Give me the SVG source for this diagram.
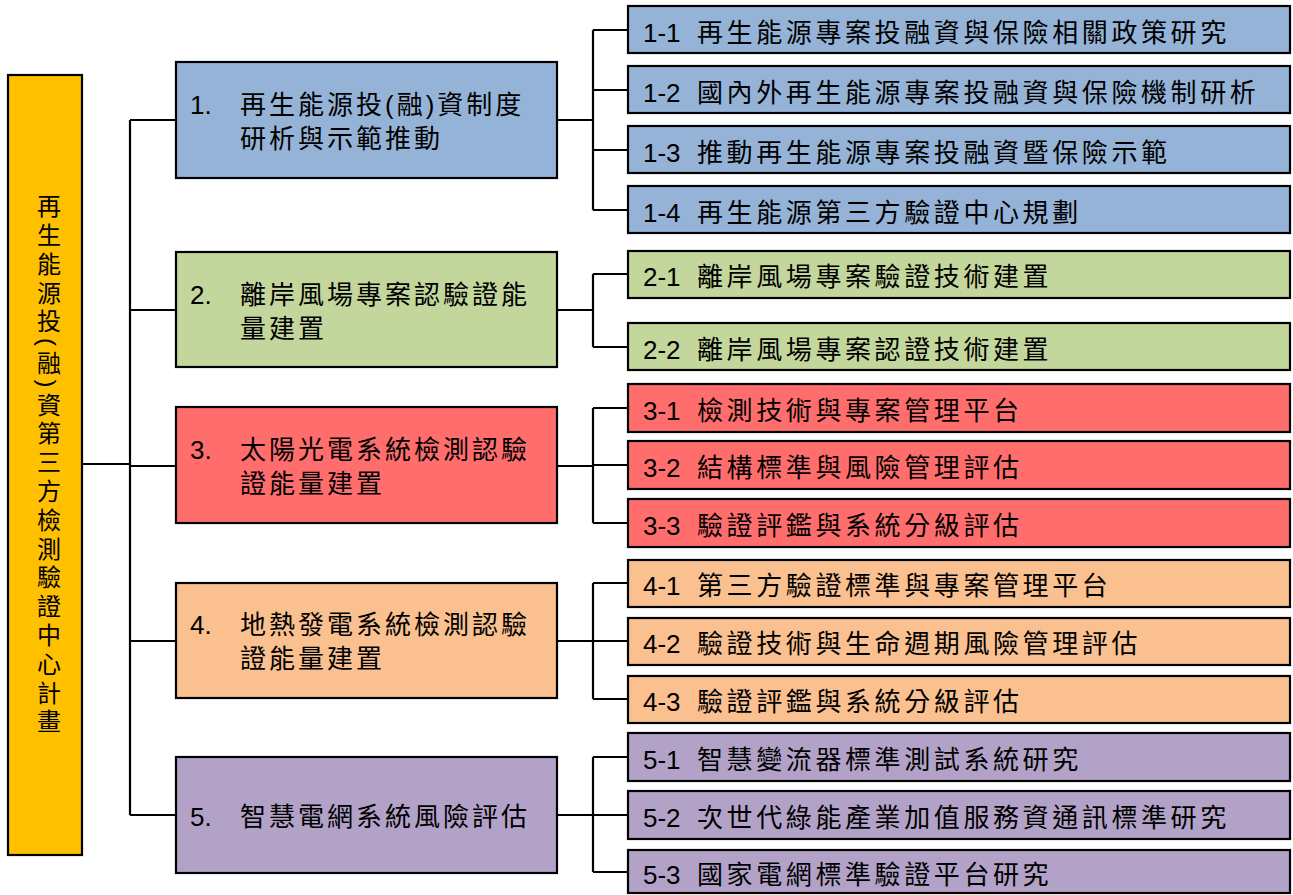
<svg xmlns="http://www.w3.org/2000/svg" width="1293" height="895" viewBox="0 0 1293 895">
<style>
.box{stroke:#000;stroke-width:2.2}
.root{fill:#FFC000}
.c1{fill:#95B3D7}
.c2{fill:#C3D69B}
.c3{fill:#FF6D6D}
.c4{fill:#FAC090}
.c5{fill:#B3A2C7}
text{font-family:"Liberation Sans","Noto Sans CJK TC",sans-serif;font-size:26px;fill:#000}
.l1{letter-spacing:3px}
.l2{letter-spacing:3.6px}
.vt{font-size:24px;letter-spacing:4.8px}
#connectors path{fill:none;stroke:#000;stroke-width:2.2}
</style>
<rect width="1293" height="895" fill="#fff"/>
<g id="connectors">
<path d="M82 464H130M130 120V815M130 120H176M130 310H176M130 466H176M130 641H176M130 815H176"/>
<path d="M557 120H593M593 30V210M593 30H628M593 90H628M593 150H628M593 210H628"/>
<path d="M557 310H593M593 274V347M593 274H628M593 347H628"/>
<path d="M557 466H593M593 408V523M593 408H628M593 465H628M593 523H628"/>
<path d="M557 641H593M593 583V699M593 583H628M593 641H628M593 699H628"/>
<path d="M557 815H593M593 757V872M593 757H628M593 815H628M593 872H628"/>
</g>
<g id="root">
<rect class="box root" x="8" y="75" width="74" height="780"/>
<text class="vt" x="47" y="194" writing-mode="vertical-rl">再生能源投(融)資第三方檢測驗證中心計畫</text>
</g>
<g id="n1">
<rect class="box c1" x="176" y="62" width="381" height="116"/>
<text y="114"><tspan x="190">1.</tspan><tspan class="l1" x="240">再生能源投(融)資制度</tspan><tspan class="l1" x="240" dy="34">研析與示範推動</tspan></text>
</g>
<g id="n2">
<rect class="box c2" x="176" y="252" width="381" height="115"/>
<text y="304"><tspan x="190">2.</tspan><tspan class="l1" x="240">離岸風場專案認驗證能</tspan><tspan class="l1" x="240" dy="34">量建置</tspan></text>
</g>
<g id="n3">
<rect class="box c3" x="176" y="407" width="381" height="116"/>
<text y="459"><tspan x="190">3.</tspan><tspan class="l1" x="240">太陽光電系統檢測認驗</tspan><tspan class="l1" x="240" dy="34">證能量建置</tspan></text>
</g>
<g id="n4">
<rect class="box c4" x="176" y="583" width="381" height="115"/>
<text y="634"><tspan x="190">4.</tspan><tspan class="l1" x="240">地熱發電系統檢測認驗</tspan><tspan class="l1" x="240" dy="34">證能量建置</tspan></text>
</g>
<g id="n5">
<rect class="box c5" x="176" y="757" width="381" height="116"/>
<text y="826"><tspan x="190">5.</tspan><tspan class="l1" x="240">智慧電網系統風險評估</tspan></text>
</g>
<g id="n1-1"><rect class="box c1" x="628" y="6" width="662" height="47"/><text y="42"><tspan x="643">1-1</tspan><tspan class="l2" x="697">再生能源專案投融資與保險相關政策研究</tspan></text></g>
<g id="n1-2"><rect class="box c1" x="628" y="66" width="662" height="47"/><text y="102"><tspan x="643">1-2</tspan><tspan class="l2" x="697">國內外再生能源專案投融資與保險機制研析</tspan></text></g>
<g id="n1-3"><rect class="box c1" x="628" y="126" width="662" height="47"/><text y="162"><tspan x="643">1-3</tspan><tspan class="l2" x="697">推動再生能源專案投融資暨保險示範</tspan></text></g>
<g id="n1-4"><rect class="box c1" x="628" y="186" width="662" height="47"/><text y="222"><tspan x="643">1-4</tspan><tspan class="l2" x="697">再生能源第三方驗證中心規劃</tspan></text></g>
<g id="n2-1"><rect class="box c2" x="628" y="251" width="662" height="47"/><text y="286"><tspan x="643">2-1</tspan><tspan class="l2" x="697">離岸風場專案驗證技術建置</tspan></text></g>
<g id="n2-2"><rect class="box c2" x="628" y="323" width="662" height="47"/><text y="359"><tspan x="643">2-2</tspan><tspan class="l2" x="697">離岸風場專案認證技術建置</tspan></text></g>
<g id="n3-1"><rect class="box c3" x="628" y="384" width="662" height="48"/><text y="420"><tspan x="643">3-1</tspan><tspan class="l2" x="697">檢測技術與專案管理平台</tspan></text></g>
<g id="n3-2"><rect class="box c3" x="628" y="441" width="662" height="48"/><text y="477"><tspan x="643">3-2</tspan><tspan class="l2" x="697">結構標準與風險管理評估</tspan></text></g>
<g id="n3-3"><rect class="box c3" x="628" y="499" width="662" height="48"/><text y="535"><tspan x="643">3-3</tspan><tspan class="l2" x="697">驗證評鑑與系統分級評估</tspan></text></g>
<g id="n4-1"><rect class="box c4" x="628" y="560" width="662" height="47"/><text y="595"><tspan x="643">4-1</tspan><tspan class="l2" x="697">第三方驗證標準與專案管理平台</tspan></text></g>
<g id="n4-2"><rect class="box c4" x="628" y="618" width="662" height="47"/><text y="653"><tspan x="643">4-2</tspan><tspan class="l2" x="697">驗證技術與生命週期風險管理評估</tspan></text></g>
<g id="n4-3"><rect class="box c4" x="628" y="676" width="662" height="47"/><text y="711"><tspan x="643">4-3</tspan><tspan class="l2" x="697">驗證評鑑與系統分級評估</tspan></text></g>
<g id="n5-1"><rect class="box c5" x="628" y="733" width="662" height="48"/><text y="769"><tspan x="643">5-1</tspan><tspan class="l2" x="697">智慧變流器標準測試系統研究</tspan></text></g>
<g id="n5-2"><rect class="box c5" x="628" y="791" width="662" height="48"/><text y="827"><tspan x="643">5-2</tspan><tspan class="l2" x="697">次世代綠能產業加值服務資通訊標準研究</tspan></text></g>
<g id="n5-3"><rect class="box c5" x="628" y="850" width="662" height="43"/><text y="884"><tspan x="643">5-3</tspan><tspan class="l2" x="697">國家電網標準驗證平台研究</tspan></text></g>
</svg>
